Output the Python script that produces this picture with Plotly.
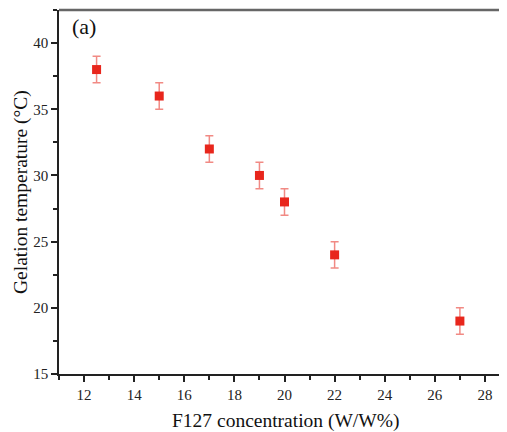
import plotly.graph_objects as go

concentration = [12.5, 15, 17, 19, 20, 22, 27]
gel_temp = [38, 36, 32, 30, 28, 24, 19]
gel_err = [1, 1, 1, 1, 1, 1, 1]

x_ticks = [12, 14, 16, 18, 20, 22, 24, 26, 28]
y_ticks = [15, 20, 25, 30, 35, 40]

font_family = "Liberation Serif, serif"

fig = go.Figure()
fig.add_trace(go.Scatter(
    x=concentration, y=gel_temp, mode="markers",
    marker=dict(symbol="square", size=9, color="#e8261c"),
    error_y=dict(type="data", array=gel_err, visible=True,
                 color="rgba(232,60,50,0.6)", thickness=1.5, width=4),
    showlegend=False,
))

# the page body has an 8px default margin, so the figure is sized to fill the rest
fig.update_layout(
    width=499, height=424,
    margin=dict(l=51, r=0, t=2, b=58, autoexpand=False),
    paper_bgcolor="white", plot_bgcolor="white",
    font=dict(family=font_family, color="#222", size=15),
    xaxis=dict(
        range=[11, 28.88], tickvals=x_ticks, ticks="outside", ticklen=6, tickwidth=1.5,
        tickcolor="#222", showline=True, linecolor="#222", linewidth=1.5,
        showgrid=False, zeroline=False, automargin=False,
        minor=dict(dtick=1, tick0=11, ticks="outside", ticklen=4, tickwidth=1.5, tickcolor="#222"),
        tickfont=dict(size=15, family=font_family),
    ),
    yaxis=dict(
        range=[15, 42.5], tickvals=y_ticks, ticks="outside", ticklen=6, tickwidth=1.5,
        tickcolor="#222", showline=True, linecolor="#222", linewidth=1.5,
        showgrid=False, zeroline=False, automargin=False,
        minor=dict(dtick=2.5, tick0=15, ticks="outside", ticklen=4, tickwidth=1.5, tickcolor="#222"),
        tickfont=dict(size=15, family=font_family),
    ),
    shapes=[dict(type="line", xref="paper", yref="paper", x0=0, x1=1, y0=1, y1=1,
                 line=dict(color="#666", width=2.5))],
    annotations=[
        dict(text="(a)", xref="paper", yref="paper", x=0.024, y=0.955,
             xanchor="left", yanchor="middle", showarrow=False,
             font=dict(size=22, family=font_family, color="#111")),
        dict(text="F127 concentration (W/W%)", xref="paper", yref="paper",
             x=(285 - 59) / 448, y=-(421 - 374) / 364, xanchor="center", yanchor="middle",
             showarrow=False, font=dict(size=19.5, family=font_family, color="#111")),
        dict(text="Gelation temperature (°C)", xref="paper", yref="paper",
             x=-(59 - 21) / 448, y=0.5, xanchor="center", yanchor="middle", textangle=-90,
             borderpad=0, showarrow=False, font=dict(size=19.5, family=font_family, color="#111")),
    ],
)

fig.write_html("out.html")
